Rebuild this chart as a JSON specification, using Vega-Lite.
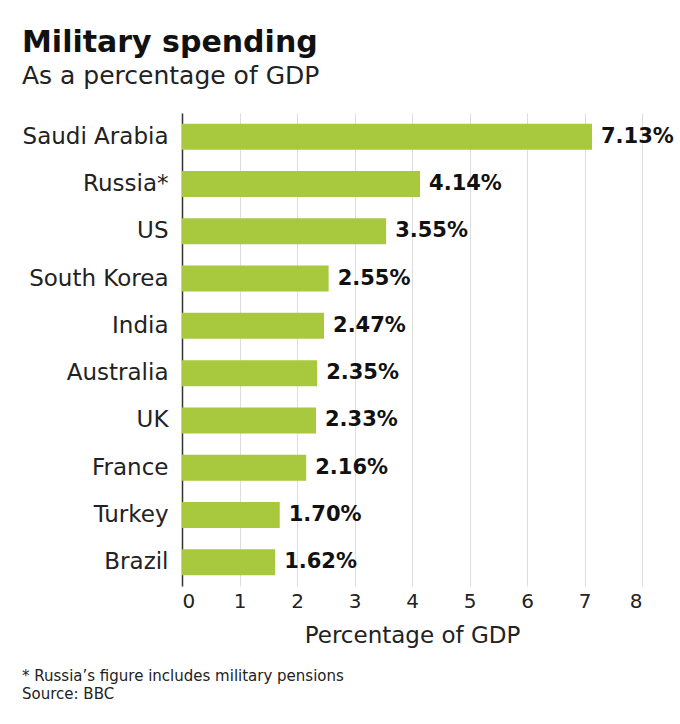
{
  "$schema": "https://vega.github.io/schema/vega-lite/v6.json",
  "background": "white",
  "padding": {"left": 22, "top": 28, "right": 5, "bottom": 5},
  "title": {
    "text": "Military spending",
    "subtitle": "As a percentage of GDP",
    "anchor": "start",
    "frame": "bounds",
    "font": "DejaVu Sans",
    "fontSize": 30,
    "fontWeight": "bold",
    "color": "#111",
    "subtitleFont": "DejaVu Sans",
    "subtitleFontSize": 25,
    "subtitleColor": "#222",
    "subtitlePadding": 6,
    "offset": 24
  },
  "config": {"view": {"stroke": null}, "font": "DejaVu Sans"},
  "spacing": 20,
  "vconcat": [
    {
      "width": 460,
      "height": 473,
      "data": {
        "values": [
          {"country": "Saudi Arabia", "value": 7.13},
          {"country": "Russia*", "value": 4.14},
          {"country": "US", "value": 3.55},
          {"country": "South Korea", "value": 2.55},
          {"country": "India", "value": 2.47},
          {"country": "Australia", "value": 2.35},
          {"country": "UK", "value": 2.33},
          {"country": "France", "value": 2.16},
          {"country": "Turkey", "value": 1.70},
          {"country": "Brazil", "value": 1.62}
        ]
      },
      "transform": [{"calculate": "format(datum.value, '.2f') + '%'", "as": "label"}],
      "encoding": {
        "y": {
          "field": "country",
          "type": "nominal",
          "sort": null,
          "scale": {"paddingInner": 0.45, "paddingOuter": 0.225},
          "axis": {
            "title": null,
            "ticks": false,
            "domain": true,
            "domainColor": "#333",
            "domainWidth": 1.5,
            "labelFontSize": 23,
            "labelColor": "#222",
            "labelPadding": 14
          }
        },
        "x": {
          "field": "value",
          "type": "quantitative",
          "scale": {"domain": [0, 8], "nice": false},
          "axis": {
            "values": [0, 1, 2, 3, 4, 5, 6, 7, 8],
            "grid": true,
            "gridColor": "#dddddd",
            "domain": false,
            "ticks": false,
            "labelFontSize": 20,
            "labelColor": "#222",
            "labelPadding": 5,
            "title": "Percentage of GDP",
            "titleFontSize": 23,
            "titleFontWeight": "normal",
            "titleColor": "#222",
            "titlePadding": 13
          }
        }
      },
      "layer": [
        {"mark": {"type": "bar", "color": "#a8c83e"}},
        {
          "mark": {"type": "text", "align": "left", "baseline": "middle", "dx": 9, "fontSize": 21, "fontWeight": "bold", "color": "#111"},
          "encoding": {"text": {"field": "label"}}
        }
      ]
    },
    {
      "width": 460,
      "height": 36,
      "data": {
        "values": [
          {"line": 1, "text": "* Russia’s figure includes military pensions"},
          {"line": 2, "text": "Source: BBC"}
        ]
      },
      "mark": {"type": "text", "align": "left", "baseline": "middle", "fontSize": 15, "color": "#222", "dx": -160},
      "encoding": {
        "y": {"field": "line", "type": "ordinal", "axis": null},
        "x": {"value": 0},
        "text": {"field": "text"}
      }
    }
  ]
}
